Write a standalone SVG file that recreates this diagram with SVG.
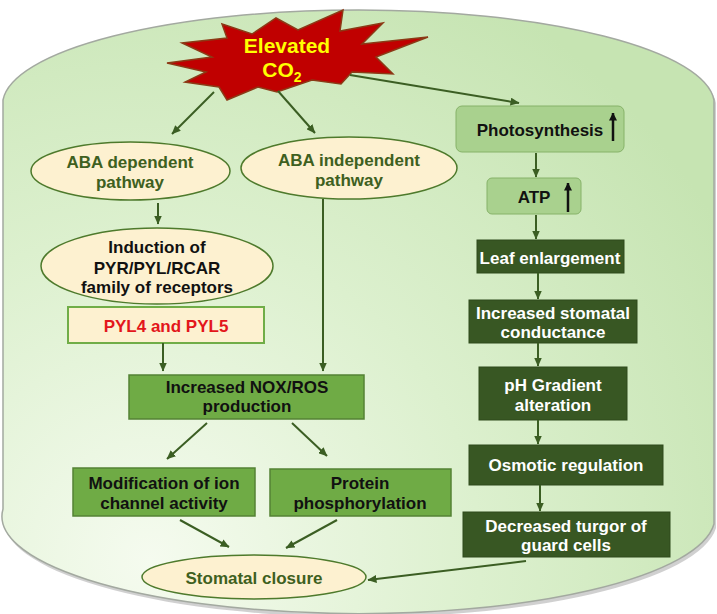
<svg xmlns="http://www.w3.org/2000/svg" width="717" height="614" viewBox="0 0 717 614">
<defs>
<radialGradient id="bg" gradientUnits="userSpaceOnUse" cx="150" cy="560" r="660">
<stop offset="0" stop-color="#f5fbef"/>
<stop offset="0.5" stop-color="#dcf0ce"/>
<stop offset="1" stop-color="#c6e4b2"/>
</radialGradient>
<marker id="ah" markerUnits="userSpaceOnUse" markerWidth="9" markerHeight="8" refX="8.5" refY="4" orient="auto">
<path d="M0,0 L9,4 L0,8 z" fill="#3b5e23"/>
</marker>
<marker id="bh" markerUnits="userSpaceOnUse" markerWidth="8" markerHeight="8" refX="7.5" refY="4" orient="auto">
<path d="M0,0 L8,4 L0,8 z" fill="#111"/>
</marker>
<style>
.t{font-family:"Liberation Sans",Arial,sans-serif;font-weight:bold;font-size:17px;text-anchor:middle}
.ell{fill:#fdf1d0;stroke:#4e7a2c;stroke-width:1.5}
.mid{fill:#6fab45;stroke:#548235;stroke-width:1.5}
.dark{fill:#385723;stroke:#2f4a1d;stroke-width:1}
.lite{fill:#a9d18e;stroke:#86b268;stroke-width:1}
.g{fill:#3e6020}
.k{fill:#111}
.w{fill:#fff}
.c line{stroke:#3b5e23;stroke-width:2;marker-end:url(#ah)}
.up{stroke:#111;stroke-width:2.5;marker-end:url(#bh)}
</style>
</defs>

<g id="background">
<path d="M5,103 A356,95 0 0 1 716,103 L716,528 A356,97 0 0 1 5,512 Z" fill="#c4c4c4" opacity="0.8"/>
<path d="M3,100 A356,95 0 0 1 714,100 L714,524 A356,97 0 0 1 3,509 Z" fill="url(#bg)" stroke="#a3a9a0" stroke-width="1.5"/>
</g>

<g id="elevated-co2">
<polygon points="167,63 212,57 182,43 227,38 222,24 252,34 276,18 298,30 343,10 340,31 383,23 362,44 428,37 376,57 393,74 352,72 341,84 312,80 277,92 258,87 227,100 219,87 185,82 206,72" fill="#c00000" stroke="#8b3a16" stroke-width="1.5" stroke-linejoin="miter"/>
<text class="t" x="287" y="53" font-size="21" fill="#ffff00" style="font-size:21px">Elevated</text>
<text class="t" x="282" y="77" fill="#ffff00" style="font-size:21px">CO<tspan dy="5" style="font-size:14px">2</tspan></text>
</g>

<g id="aba-dependent">
<ellipse class="ell" cx="130.5" cy="171" rx="99.5" ry="29"/>
<text class="t g" x="130" y="168">ABA dependent</text>
<text class="t g" x="130" y="188">pathway</text>
</g>

<g id="aba-independent">
<ellipse class="ell" cx="349" cy="168" rx="108" ry="31"/>
<text class="t g" x="349" y="166">ABA independent</text>
<text class="t g" x="349" y="186">pathway</text>
</g>

<g id="induction">
<ellipse class="ell" cx="157" cy="266" rx="116" ry="38"/>
<text class="t k" x="157" y="253">Induction of</text>
<text class="t k" x="157" y="274">PYR/PYL/RCAR</text>
<text class="t k" x="157" y="293">family of receptors</text>
</g>

<g id="pyl">
<rect x="68" y="307" width="196" height="36" fill="#fdf1d0" stroke="#70ad47" stroke-width="2"/>
<text class="t" x="166" y="332" fill="#e3161b">PYL4 and PYL5</text>
</g>

<g id="nox">
<rect class="mid" x="129" y="375" width="235" height="44"/>
<text class="t k" x="247" y="393">Increased NOX/ROS</text>
<text class="t k" x="247" y="412">production</text>
</g>

<g id="modification">
<rect class="mid" x="73" y="468" width="182" height="48"/>
<text class="t k" x="164" y="489">Modification of ion</text>
<text class="t k" x="164" y="509">channel activity</text>
</g>

<g id="protein">
<rect class="mid" x="270" y="469" width="181" height="47"/>
<text class="t k" x="360" y="489">Protein</text>
<text class="t k" x="360" y="509">phosphorylation</text>
</g>

<g id="stomatal-closure">
<ellipse class="ell" cx="254" cy="577" rx="112" ry="22"/>
<text class="t g" x="254" y="584">Stomatal closure</text>
</g>

<g id="photosynthesis">
<rect class="lite" x="456" y="106" width="168" height="46" rx="6"/>
<text class="t k" x="540" y="136">Photosynthesis</text>
<line class="up" x1="613" y1="141" x2="613" y2="113"/>
</g>

<g id="atp">
<rect class="lite" x="487" y="178" width="94" height="36" rx="5"/>
<text class="t k" x="534" y="203">ATP</text>
<line class="up" x1="568" y1="212" x2="568" y2="183"/>
</g>

<g id="leaf">
<rect class="dark" x="477" y="240" width="147" height="33"/>
<text class="t w" x="550" y="264">Leaf enlargement</text>
</g>

<g id="conductance">
<rect class="dark" x="469" y="300" width="168" height="43"/>
<text class="t w" x="553" y="319">Increased stomatal</text>
<text class="t w" x="553" y="338">conductance</text>
</g>

<g id="ph">
<rect class="dark" x="479" y="367" width="148" height="53"/>
<text class="t w" x="553" y="391">pH Gradient</text>
<text class="t w" x="553" y="411">alteration</text>
</g>

<g id="osmotic">
<rect class="dark" x="469" y="445" width="194" height="40"/>
<text class="t w" x="566" y="471">Osmotic regulation</text>
</g>

<g id="turgor">
<rect class="dark" x="463" y="512" width="207" height="45"/>
<text class="t w" x="566" y="532">Decreased turgor of</text>
<text class="t w" x="566" y="551">guard cells</text>
</g>

<g id="connectors" class="c">
<line x1="214" y1="92" x2="172" y2="134"/>
<line x1="278" y1="91" x2="315" y2="133"/>
<line x1="350" y1="75" x2="519" y2="103"/>
<line x1="158" y1="203" x2="158" y2="224"/>
<line x1="323" y1="199" x2="323" y2="371"/>
<line x1="163" y1="343" x2="163" y2="371"/>
<line x1="207" y1="423" x2="167" y2="459"/>
<line x1="292" y1="423" x2="327" y2="456"/>
<line x1="180" y1="520" x2="229" y2="547"/>
<line x1="337" y1="520" x2="286" y2="548"/>
<line x1="526" y1="561" x2="368" y2="580"/>
<line x1="536" y1="153" x2="536" y2="177"/>
<line x1="536" y1="215" x2="536" y2="239"/>
<line x1="538" y1="273" x2="538" y2="299"/>
<line x1="538" y1="343" x2="538" y2="366"/>
<line x1="538" y1="420" x2="538" y2="444"/>
<line x1="540" y1="485" x2="540" y2="511"/>
</g>
</svg>
